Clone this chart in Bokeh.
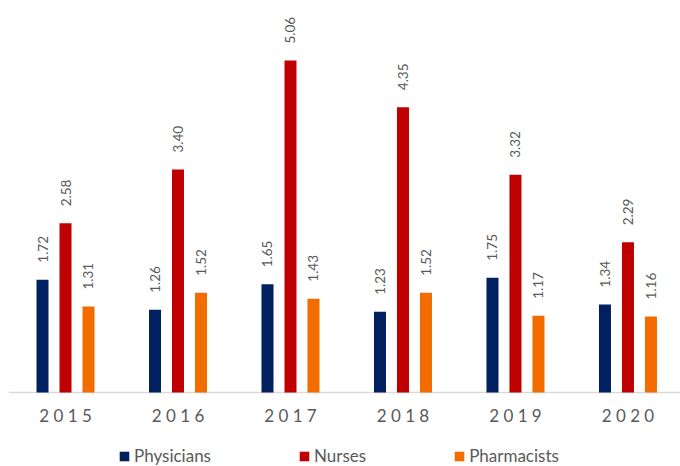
from bokeh.plotting import figure
from bokeh.models import Range1d, ColumnDataSource, Legend, LegendItem, Span
from bokeh.embed import file_html
from bokeh.resources import INLINE
from bokeh.core.properties import value
import math

years = ["2015", "2016", "2017", "2018", "2019", "2020"]
physicians = [1.72, 1.26, 1.65, 1.23, 1.75, 1.34]
nurses = [2.58, 3.40, 5.06, 4.35, 3.32, 2.29]
pharmacists = [1.31, 1.52, 1.43, 1.52, 1.17, 1.16]

series_names = ["Physicians", "Nurses", "Pharmacists"]
series_values = [physicians, nurses, pharmacists]
colors = ["#002060", "#C00000", "#F36C00"]
offsets = [-0.2044, 0.0, 0.2044]

FONT = "Lato"
GRAY = "#595959"

p = figure(width=680, height=466, output_backend="svg", toolbar_location=None,
           x_range=Range1d(-0.5067, 5.467), y_range=Range1d(-1.128, 5.976),
           x_axis_location=None, y_axis_location=None,
           min_border_left=8, min_border_right=0,
           min_border_top=0, min_border_bottom=0)
p.outline_line_color = None
p.xgrid.visible = False
p.ygrid.visible = False
p.background_fill_color = "white"

# category axis line
p.add_layout(Span(location=0, dimension="width", line_color="#D9D9D9",
                  line_width=1.5, level="underlay"))

xs = list(range(len(years)))
renderers = []
for name, vals, col, off in zip(series_names, series_values, colors, offsets):
    src = ColumnDataSource(dict(x=[i + off for i in xs], top=vals,
                                lab=["%.2f" % v for v in vals]))
    r = p.vbar(x="x", top="top", width=0.1067, bottom=0, source=src,
               fill_color=col, line_color=None)
    renderers.append((name, r))
    p.text(x="x", y="top", text="lab", source=src, angle=math.pi / 2,
           text_align="left", text_baseline="middle", y_offset=-17,
           text_font=value(FONT), text_font_size="13.5px", text_color=GRAY)

# year labels under the axis line
ysrc = ColumnDataSource(dict(x=xs, y=[0] * len(xs), lab=[" ".join(y) for y in years]))
p.text(x="x", y="y", text="lab", source=ysrc, text_align="center",
       text_baseline="middle", y_offset=23, text_font=value(FONT),
       text_font_size="17px", text_color=GRAY)

legend = Legend(items=[LegendItem(label=n, renderers=[r]) for n, r in renderers],
                orientation="horizontal", location=(110, 0),
                glyph_width=12, glyph_height=12, label_height=12,
                label_standoff=4, spacing=87, padding=0, margin=0,
                border_line_color=None, background_fill_alpha=0,
                label_text_font=FONT, label_text_font_size="17px",
                label_text_color=GRAY)
p.add_layout(legend, "center")

open("out.html", "w").write(file_html(p, INLINE))
